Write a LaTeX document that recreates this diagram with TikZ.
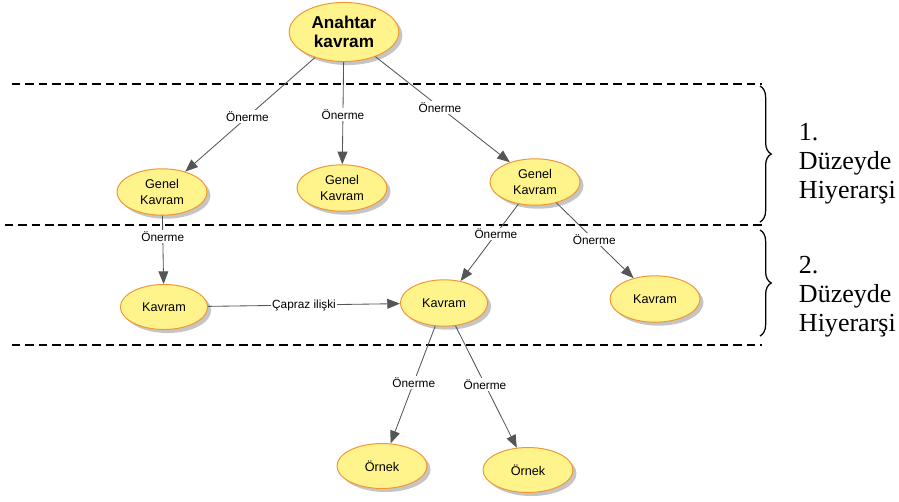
\documentclass[tikz,border=0pt]{standalone}
\usepackage{fontspec}
\setmainfont{Liberation Sans}
\newfontfamily\serifyazi{Liberation Serif}
\usepackage{tikz}
\usetikzlibrary{shapes.geometric}
\usetikzlibrary{arrows.meta}
\usetikzlibrary{shadows}
\usetikzlibrary{decorations.pathreplacing}

\definecolor{kavramdolgu}{RGB}{255,244,140}
\definecolor{kavramkenar}{RGB}{240,150,50}
\definecolor{okrengi}{RGB}{85,85,85}

\tikzset{
  kavram/.style={ellipse, draw=kavramkenar, line width=0.7pt, fill=kavramdolgu,
    drop shadow={shadow xshift=2.5pt, shadow yshift=-2.5pt, fill=black!45},
    minimum width=64pt, minimum height=33pt, inner sep=0pt, align=center,
    font=\fontsize{9}{11.3}\selectfont},
  baglac/.style={fill=white, inner sep=1pt, font=\fontsize{8.4}{10}\selectfont},
  ok/.style={draw=okrengi, line width=0.6pt,
    -{Triangle[length=9pt,width=7pt,fill=okrengi]}},
  kesik/.style={line width=1.1pt, dash pattern=on 6pt off 3.5pt},
  kume/.style={decorate, decoration={brace, amplitude=8pt}, line width=0.9pt},
  duzey/.style={align=left, anchor=west, font=\serifyazi\fontsize{18.5}{20.5}\selectfont}
}

\begin{document}
\begin{tikzpicture}[x=0.025cm,y=-0.025cm]
  \useasboundingbox (0,0) rectangle (899,501);
  % seviye cizgileri
  \draw [kesik] (12,84) -- (762,84);
  \draw [kesik] (5,225) -- (762,225);
  \draw [kesik] (12,345) -- (762,345);
  % kavramlar
  \node [kavram, minimum width=78pt, minimum height=42pt,
    font=\bfseries\fontsize{12.2}{13.5}\selectfont] (anh) at (344,32) {Anahtar\\kavram};
  \node [kavram] (gk1) at (162,192) {Genel\\Kavram};
  \node [kavram] (gk2) at (342,188) {Genel\\Kavram};
  \node [kavram] (gk3) at (535,182) {Genel\\Kavram};
  \node [kavram, minimum width=62pt, minimum height=32pt] (kv1) at (164,307) {Kavram};
  \node [kavram, minimum width=62pt, minimum height=33pt] (kv2) at (444,303) {Kavram};
  \node [kavram, minimum width=64pt, minimum height=33pt] (kv3) at (655,299) {Kavram};
  \node [kavram, minimum width=64pt, minimum height=32pt] (or1) at (382,466) {Örnek};
  \node [kavram, minimum width=64pt, minimum height=32pt] (or2) at (528,470) {Örnek};
  % baglantilar
  \draw [ok] (anh) -- node [baglac, pos=0.52] {Önerme} (gk1);
  \draw [ok] (anh) -- node [baglac, pos=0.51] {Önerme} (gk2);
  \draw [ok] (anh) -- node [baglac, pos=0.48] {Önerme} (gk3);
  \draw [ok] (gk1) -- node [baglac, pos=0.31] {Önerme} (kv1);
  \draw [ok] (gk3) -- node [baglac, pos=0.39] {Önerme} (kv2);
  \draw [ok] (gk3) -- node [baglac, pos=0.49] {Önerme} (kv3);
  \draw [ok] (kv1) -- node [baglac, pos=0.5] {Çapraz ilişki} (kv2);
  \draw [ok] (kv2) -- node [baglac, pos=0.48] {Önerme} (or1);
  \draw [ok] (kv2) -- node [baglac, pos=0.48] {Önerme} (or2);
  % duzey parantezleri
  \coordinate (k1a) at (760,86);
  \coordinate (k1b) at (760,222);
  \coordinate (k2a) at (760,230);
  \coordinate (k2b) at (760,336);
  \draw [kume] (k1a) -- (k1b);
  \draw [kume] (k2a) -- (k2b);
  \node [duzey] (d1) at (794,164) {1.\\Düzeyde\\Hiyerarşi};
  \node [duzey] (d2) at (794,297) {2.\\Düzeyde\\Hiyerarşi};
\end{tikzpicture}
\end{document}
